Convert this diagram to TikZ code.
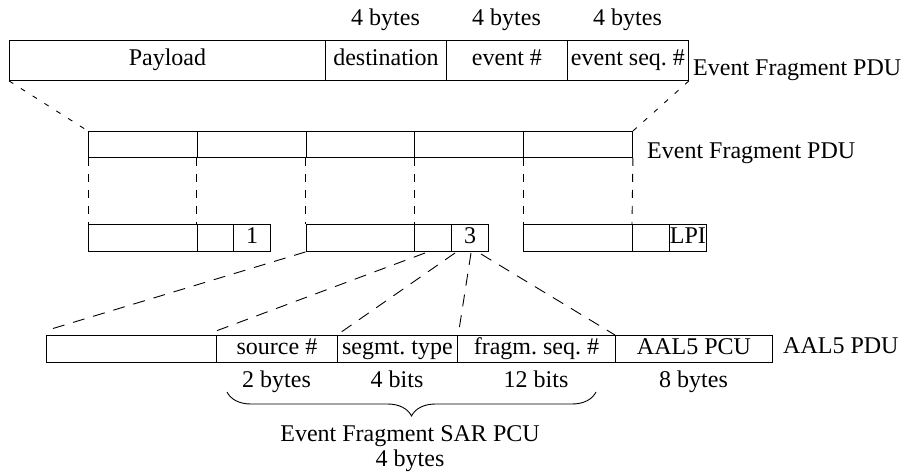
\documentclass[tikz,border=0pt]{standalone}
\usepackage{fontspec}
\setmainfont{Liberation Serif}
\usetikzlibrary{decorations.pathreplacing}
\begin{document}
\frenchspacing
\begin{tikzpicture}[x=1pt,y=-1pt,
  cell/.style={draw, line width=0.9pt, inner sep=0pt, anchor=north west,
    text height=17pt, text depth=6pt, font=\fontsize{24}{29}\selectfont},
  lbl/.style={inner sep=0pt, text height=17pt, text depth=6pt,
    font=\fontsize{24}{29}\selectfont},
  fine/.style={dash pattern=on 5pt off 9pt, line width=0.9pt},
  mid/.style={dash pattern=on 8pt off 8pt, line width=0.9pt},
  coarse/.style={dash pattern=on 12pt off 9pt, line width=0.9pt}]
\useasboundingbox (0,0) rectangle (901,472);

% top row
\node[cell, minimum width=316pt, minimum height=40pt] (pay) at (9,40) {Payload};
\node[cell, minimum width=121pt, minimum height=40pt] (dst) at (325,40) {destination};
\node[cell, minimum width=121pt, minimum height=40pt] (evt) at (446,40) {event \#};
\node[cell, minimum width=121pt, minimum height=40pt] (seq) at (567,40) {event seq. \#};
\node[lbl] (sz1) at (385.5,20) {4 bytes};
\node[lbl] (sz2) at (506.5,20) {4 bytes};
\node[lbl] (sz3) at (627.5,20) {4 bytes};
\node[lbl, anchor=west] (efp1) at (693,70) {Event Fragment PDU};

% second row
\node[cell, minimum width=108.8pt, minimum height=26pt] (r1) at (88,131) {};
\node[cell, minimum width=108.8pt, minimum height=26pt] (r2) at (196.8,131) {};
\node[cell, minimum width=108.8pt, minimum height=26pt] (r3) at (305.6,131) {};
\node[cell, minimum width=108.8pt, minimum height=26pt] (r4) at (414.4,131) {};
\node[cell, minimum width=108.8pt, minimum height=26pt] (r5) at (523.2,131) {};
\node[lbl, anchor=west] (efp2) at (647,153) {Event Fragment PDU};

% third row
\node[cell, minimum width=108.8pt, minimum height=27pt] (g1a) at (88,224) {};
\node[cell, minimum width=36.6pt, minimum height=27pt] (g1b) at (196.8,224) {};
\node[cell, minimum width=36.6pt, minimum height=27pt] (g1c) at (233.4,224) {1};
\node[cell, minimum width=108.8pt, minimum height=27pt] (g2a) at (305.6,224) {};
\node[cell, minimum width=36.8pt, minimum height=27pt] (g2b) at (414.4,224) {};
\node[cell, minimum width=36.8pt, minimum height=27pt] (g2c) at (451.2,224) {3};
\node[cell, minimum width=108.8pt, minimum height=27pt] (g3a) at (523.2,224) {};
\node[cell, minimum width=37pt, minimum height=27pt] (g3b) at (632,224) {};
\node[cell, minimum width=37pt, minimum height=27pt] (g3c) at (669,224) {LPI};

% bottom row
\node[cell, minimum width=170pt, minimum height=27pt] (c1) at (46,335) {};
\node[cell, minimum width=121pt, minimum height=27pt] (c2) at (216,335) {source \#};
\node[cell, minimum width=120pt, minimum height=27pt] (c3) at (337,335) {segmt. type};
\node[cell, minimum width=158pt, minimum height=27pt] (c4) at (457,335) {fragm. seq. \#};
\node[cell, minimum width=157pt, minimum height=27pt] (c5) at (615,335) {AAL5 PCU};
\node[lbl, anchor=west] (aal) at (783,348) {AAL5 PDU};
\node[lbl] (bs2) at (276.5,382) {2 bytes};
\node[lbl] (bs3) at (397,382) {4 bits};
\node[lbl] (bs4) at (536,382) {12 bits};
\node[lbl] (bs5) at (693.5,382) {8 bytes};
\node[lbl] (sar) at (410,436) {Event Fragment SAR PCU};
\node[lbl] (sar4) at (410,461) {4 bytes};

% connectors
\draw[fine] (pay.south west) -- (r1.north west);
\draw[fine] (seq.south east) -- (r5.north east);
\draw[mid] (r1.south west) -- (g1a.north west);
\draw[mid] (r2.south west) -- (g1b.north west);
\draw[mid] (r3.south west) -- (g2a.north west);
\draw[mid] (r4.south west) -- (g2b.north west);
\draw[mid] (r5.south west) -- (g3a.north west);
\draw[mid] (r5.south east) -- (g3b.north west);

\coordinate (e1) at (48,330);
\coordinate (s2) at (425,253);
\coordinate (e2) at (216,331);
\coordinate (s3) at (455,253);
\coordinate (s4) at (471,253);
\coordinate (e4) at (459,330);
\coordinate (s5) at (481,254);
\draw[coarse] (g2a.south west) -- (e1);
\draw[coarse] (s2) -- (e2);
\draw[coarse] (s3) -- (c3.north west);
\draw[coarse] (s4) -- (e4);
\draw[coarse] (s5) -- (c5.north west);

% brace
\coordinate (brL) at (227,392);
\coordinate (brR) at (596,392);
\draw[decorate, decoration={brace, mirror, amplitude=24pt}, line width=0.9pt] (brL) -- (brR);
\end{tikzpicture}
\end{document}
